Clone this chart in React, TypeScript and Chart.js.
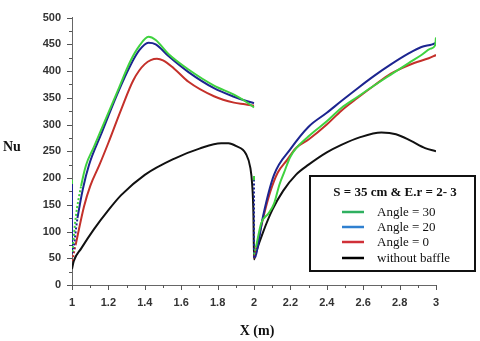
import React, { useEffect, useRef } from "react";
import { Chart, registerables } from "chart.js";

Chart.register(...registerables);

// ---- data ----
const seriesLabels = ["Angle = 30", "Angle = 20", "Angle = 0", "without baffle"];
const legendTitle = "S = 35 cm & E.r = 2- 3";
const yAxisTitle = "Nu";
const xAxisTitle = "X (m)";

const angle30X = [1, 1, 1, 1.002, 1.02, 1.05, 1.077, 1.12, 1.16, 1.25, 1.32, 1.37, 1.42, 1.46, 1.53, 1.64, 1.78, 1.89, 1.95, 2.0, 2.0, 2.0, 2.0, 2.0, 2.0, 2.01, 2.04, 2.08, 2.11, 2.14, 2.165, 2.2, 2.3, 2.4, 2.48, 2.57, 2.66, 2.75, 2.85, 2.92, 2.97, 2.995, 3.0];
const angle30Y = [197, 189, null, 62, 125, 185, 224, 258, 290, 362, 418, 447, 464, 458, 432, 403, 373, 356, 344, 332, null, 204, 196, null, 57, 70, 116, 134, 152, 188, 210, 240, 278, 306, 331, 352, 373, 393, 415, 430, 442, 448, 463];

const angle20X = [1, 1, 1, 1.03, 1.06, 1.093, 1.16, 1.25, 1.32, 1.37, 1.42, 1.46, 1.53, 1.64, 1.78, 1.89, 1.95, 2.0, 2.0, 2.0, 2.0, 2.01, 2.05, 2.11, 2.2, 2.3, 2.4, 2.48, 2.57, 2.66, 2.75, 2.85, 2.92, 2.98, 3.0];
const angle20Y = [190, 128, 60, 125, 180, 224, 282, 358, 410, 439, 453, 450, 428, 398, 368, 352, 345, 340, null, 197, 50, 55, 129, 206, 254, 296, 322, 344, 368, 391, 412, 433, 445, 450, 453];

const angle0X = [1, 1.02, 1.066, 1.1, 1.15, 1.2, 1.27, 1.337, 1.4, 1.467, 1.5, 1.56, 1.64, 1.78, 1.89, 1.95, 2.0, 2.0, 2.0, 2.02, 2.05, 2.09, 2.13, 2.18, 2.23, 2.3, 2.4, 2.48, 2.57, 2.66, 2.75, 2.81, 2.88, 2.96, 3.0];
const angle0Y = [45, 75, 147, 185, 224, 266, 328, 383, 413, 423, 420, 405, 380, 353, 341, 338, 335, null, 50, 80, 125, 175, 210, 233, 256, 272, 300, 326, 350, 373, 395, 405, 415, 424, 430];

const noBaffleX = [1, 1.01, 1.05, 1.12, 1.2, 1.27, 1.4, 1.56, 1.7, 1.82, 1.86, 1.9, 1.956, 1.98, 1.99, 1.997, 2.0, 2.01, 2.05, 2.1, 2.16, 2.23, 2.3, 2.4, 2.48, 2.58, 2.7, 2.78, 2.86, 2.94, 3.0];
const noBaffleY = [30, 45, 68, 104, 140, 168, 206, 236, 255, 265, 265, 260, 245, 219, 188, 129, 48, 60, 99, 140, 176, 206, 225, 248, 262, 276, 285, 282, 270, 256, 250];

const lineColors = ["#3fd23f", "#1c2590", "#c4302a", "#111111"];
const legendColors = ["#2fb060", "#2f80d0", "#d03038", "#000000"];

const xMin = 1, xMax = 3, xStep = 0.2, xMinorStep = 0.1;
const yMin = 0, yMax = 500, yStep = 50, yMinorStep = 25;

function toPoints(xs: number[], ys: (number | null)[]) {
  return xs.map((x, i) => ({ x, y: ys[i] }));
}

const overlayPlugin = {
  id: "overlay",
  afterDraw(chart: any) {
    const ctx = chart.ctx as CanvasRenderingContext2D;
    const xs = chart.scales.x;
    const ys = chart.scales.y;
    const area = chart.chartArea;
    ctx.save();
    // ticks
    ctx.strokeStyle = "#555";
    ctx.lineWidth = 1;
    ctx.beginPath();
    const nY = Math.round((yMax - yMin) / yMinorStep);
    for (let i = 0; i <= nY; i++) {
      const v = yMin + i * yMinorStep;
      const py = Math.round(ys.getPixelForValue(v)) + 0.5;
      const len = i % 2 === 0 ? 5 : 3;
      ctx.moveTo(area.left - len, py);
      ctx.lineTo(area.left, py);
    }
    const nX = Math.round((xMax - xMin) / xMinorStep);
    for (let i = 0; i <= nX; i++) {
      const v = xMin + i * xMinorStep;
      const px = Math.round(xs.getPixelForValue(v)) + 0.5;
      const len = i % 2 === 0 ? 5 : 3;
      ctx.moveTo(px, area.bottom);
      ctx.lineTo(px, area.bottom + len);
    }
    ctx.stroke();

    // axis titles
    ctx.fillStyle = "#111";
    ctx.font = "bold 14px 'Liberation Serif', serif";
    ctx.textAlign = "left";
    ctx.textBaseline = "alphabetic";
    ctx.fillText(yAxisTitle, 3, 151);
    ctx.textAlign = "center";
    ctx.fillText(xAxisTitle, (area.left + area.right) / 2 + 3, 335);

    // legend box
    const bx = 310, by = 176, bw = 165, bh = 95;
    ctx.fillStyle = "#fff";
    ctx.fillRect(bx, by, bw, bh);
    ctx.strokeStyle = "#111";
    ctx.lineWidth = 2;
    ctx.strokeRect(bx, by, bw, bh);
    ctx.fillStyle = "#111";
    ctx.font = "bold 13px 'Liberation Serif', serif";
    ctx.textAlign = "center";
    ctx.fillText(legendTitle, 395, 196);
    ctx.font = "13px 'Liberation Serif', serif";
    ctx.textAlign = "left";
    const rows = [212, 227, 242, 258];
    seriesLabels.forEach((lab, i) => {
      ctx.strokeStyle = legendColors[i];
      ctx.lineWidth = 2.5;
      ctx.beginPath();
      ctx.moveTo(342, rows[i]);
      ctx.lineTo(364, rows[i]);
      ctx.stroke();
      ctx.fillStyle = "#111";
      ctx.fillText(lab, 377, rows[i] + 4);
    });
    ctx.restore();
  },
};

export default function App() {
  const ref = useRef<HTMLCanvasElement | null>(null);
  useEffect(() => {
    if (!ref.current) return;
    const seriesX = [angle30X, angle20X, angle0X, noBaffleX];
    const seriesY = [angle30Y, angle20Y, angle0Y, noBaffleY];
    const dashSeg = (ctx: any) => {
      const a = ctx.p0.parsed, b = ctx.p1.parsed;
      if (b.x <= 1.05 && a.y < 130 && b.x > 1) return [2, 2];
      if (a.x >= 1.99 && b.x <= 2.015 && a.y < 200) return [2, 2];
      return undefined;
    };
    const chart = new Chart(ref.current, {
      type: "line",
      data: {
        datasets: seriesLabels.map((label, i) => ({
          label,
          data: toPoints(seriesX[i], seriesY[i]) as any,
          borderColor: lineColors[i],
          backgroundColor: lineColors[i],
          borderWidth: 2,
          pointRadius: 0,
          fill: false,
          spanGaps: false,
          cubicInterpolationMode: "monotone" as const,
          segment: i < 3 ? { borderDash: dashSeg } : undefined,
        })),
      },
      options: {
        animation: false,
        responsive: false,
        maintainAspectRatio: false,
        layout: { padding: { top: 6, right: 44, left: 0, bottom: 0 } },
        plugins: { legend: { display: false }, tooltip: { enabled: false } },
        scales: {
          x: {
            type: "linear",
            min: xMin,
            max: xMax,
            afterFit: (s: any) => { s.height = 56; },
            ticks: {
              stepSize: xStep,
              color: "#333",
              padding: 11,
              maxRotation: 0,
              callback: (v: any) => String(Math.round(Number(v) * 10) / 10),
              font: { family: "'Liberation Sans', Arial, sans-serif", size: 11, weight: "bold" },
            },
            grid: { display: false, drawTicks: false },
            border: { display: true, color: "#666", width: 1 },
          },
          y: {
            type: "linear",
            min: yMin,
            max: yMax,
            afterFit: (s: any) => { s.width = 72; },
            ticks: {
              stepSize: yStep,
              color: "#333",
              padding: 11,
              font: { family: "'Liberation Sans', Arial, sans-serif", size: 11, weight: "bold" },
            },
            grid: { display: false, drawTicks: false },
            border: { display: true, color: "#666", width: 1 },
          },
        },
      },
      plugins: [overlayPlugin],
    });
    return () => chart.destroy();
  }, []);
  return (
    <div style={{ position: "absolute", left: 0, top: 0, width: 480, height: 341, background: "#fff" }}>
      <canvas ref={ref} width={480} height={341} style={{ width: 480, height: 341, display: "block" }} />
    </div>
  );
}
